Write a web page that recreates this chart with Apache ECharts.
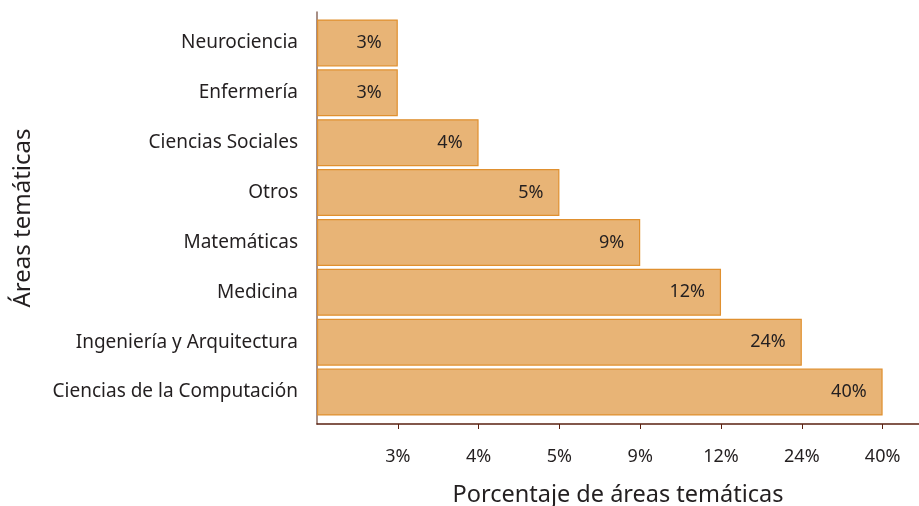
<!DOCTYPE html>
<html>
<head>
<meta charset="utf-8">
<script src="https://cdn.jsdelivr.net/npm/echarts@6/dist/echarts.min.js"></script>
<style>
	html, body { margin: 0; padding: 0; background: #fff; }
	#chart { width: 919px; height: 506px; }
</style>
</head>
<body>
<div id="chart"></div>
<script>
	// areas, top to bottom
	const categories = ['Neurociencia', 'Enfermería', 'Ciencias Sociales', 'Otros', 'Matemáticas', 'Medicina', 'Ingeniería y Arquitectura', 'Ciencias de la Computación']
	const percentages = [3, 3, 4, 5, 9, 12, 24, 40]
	// the x axis is ordinal: ticks sit evenly spaced, one per distinct percentage
	const tickLabels = ['3%', '4%', '5%', '9%', '12%', '24%', '40%']

	const font = 'Noto Sans'
	const textColor = '#231f20'
	const xMax = 7.45

	// bar length = position of its percentage on the ordinal axis
	const barData = percentages.map(p => tickLabels.indexOf(p + '%') + 1)

	let option = {
		animation: false,
		grid: [{
			// bars
			top: 18,
			bottom: 89,
			left: 317,
			right: 0,
			outerBoundsMode: 'none',
		}, {
			// axis frame, a little taller than the bars
			top: 12,
			bottom: 82,
			left: 317,
			right: 0,
			outerBoundsMode: 'none',
		}],
		xAxis: [{
			gridIndex: 0,
			type: 'value',
			min: 0,
			max: xMax,
			show: false,
		}, {
			gridIndex: 1,
			type: 'value',
			min: 0,
			max: xMax,
			interval: 1,
			name: 'Porcentaje de áreas temáticas',
			nameLocation: 'middle',
			nameGap: 59,
			nameTextStyle: {
				fontFamily: font,
				fontSize: 23.5,
				color: textColor
			},
			axisLine: {
				show: true,
				onZero: false,
				lineStyle: {
					color: '#5a2010',
					width: 1.5
				}
			},
			axisTick: {
				show: true,
				length: 5,
				customValues: [1, 2, 3, 4, 5, 6, 7],
				lineStyle: {
					color: '#5a2010'
				}
			},
			axisLabel: {
				customValues: [1, 2, 3, 4, 5, 6, 7],
				margin: 24,
				fontFamily: font,
				fontSize: 18,
				color: textColor,
				formatter: v => tickLabels[v - 1] || ''
			},
			splitLine: {
				show: false
			},
		}],
		yAxis: [{
			gridIndex: 0,
			type: 'category',
			inverse: true,
			data: categories,
			axisLine: {
				show: false
			},
			axisTick: {
				show: false
			},
			axisLabel: {
				margin: 19,
				fontFamily: font,
				fontSize: 19,
				color: textColor
			},
		}, {
			gridIndex: 1,
			type: 'value',
			min: 0,
			max: 1,
			name: 'Áreas temáticas',
			nameLocation: 'middle',
			nameGap: 282,
			nameRotate: 90,
			nameTextStyle: {
				fontFamily: font,
				fontSize: 24,
				color: textColor
			},
			axisLine: {
				show: true,
				onZero: false,
				lineStyle: {
					color: '#8a6a5e',
					width: 1.5
				}
			},
			axisTick: {
				show: false
			},
			axisLabel: {
				show: false
			},
			splitLine: {
				show: false
			},
		}],
		series: [{
			type: 'bar',
			xAxisIndex: 0,
			yAxisIndex: 0,
			data: barData,
			barWidth: 47,
			itemStyle: {
				color: '#e8b476',
				borderColor: '#e0902f',
				borderWidth: 1.2
			},
			label: {
				show: true,
				position: 'insideRight',
				distance: 16,
				fontFamily: font,
				fontSize: 18,
				color: textColor,
				formatter: p => percentages[p.dataIndex] + '%'
			},
		}],
	};

	const chart = echarts.init(document.getElementById('chart'))
	chart.setOption(option)
</script>
</body>
</html>
